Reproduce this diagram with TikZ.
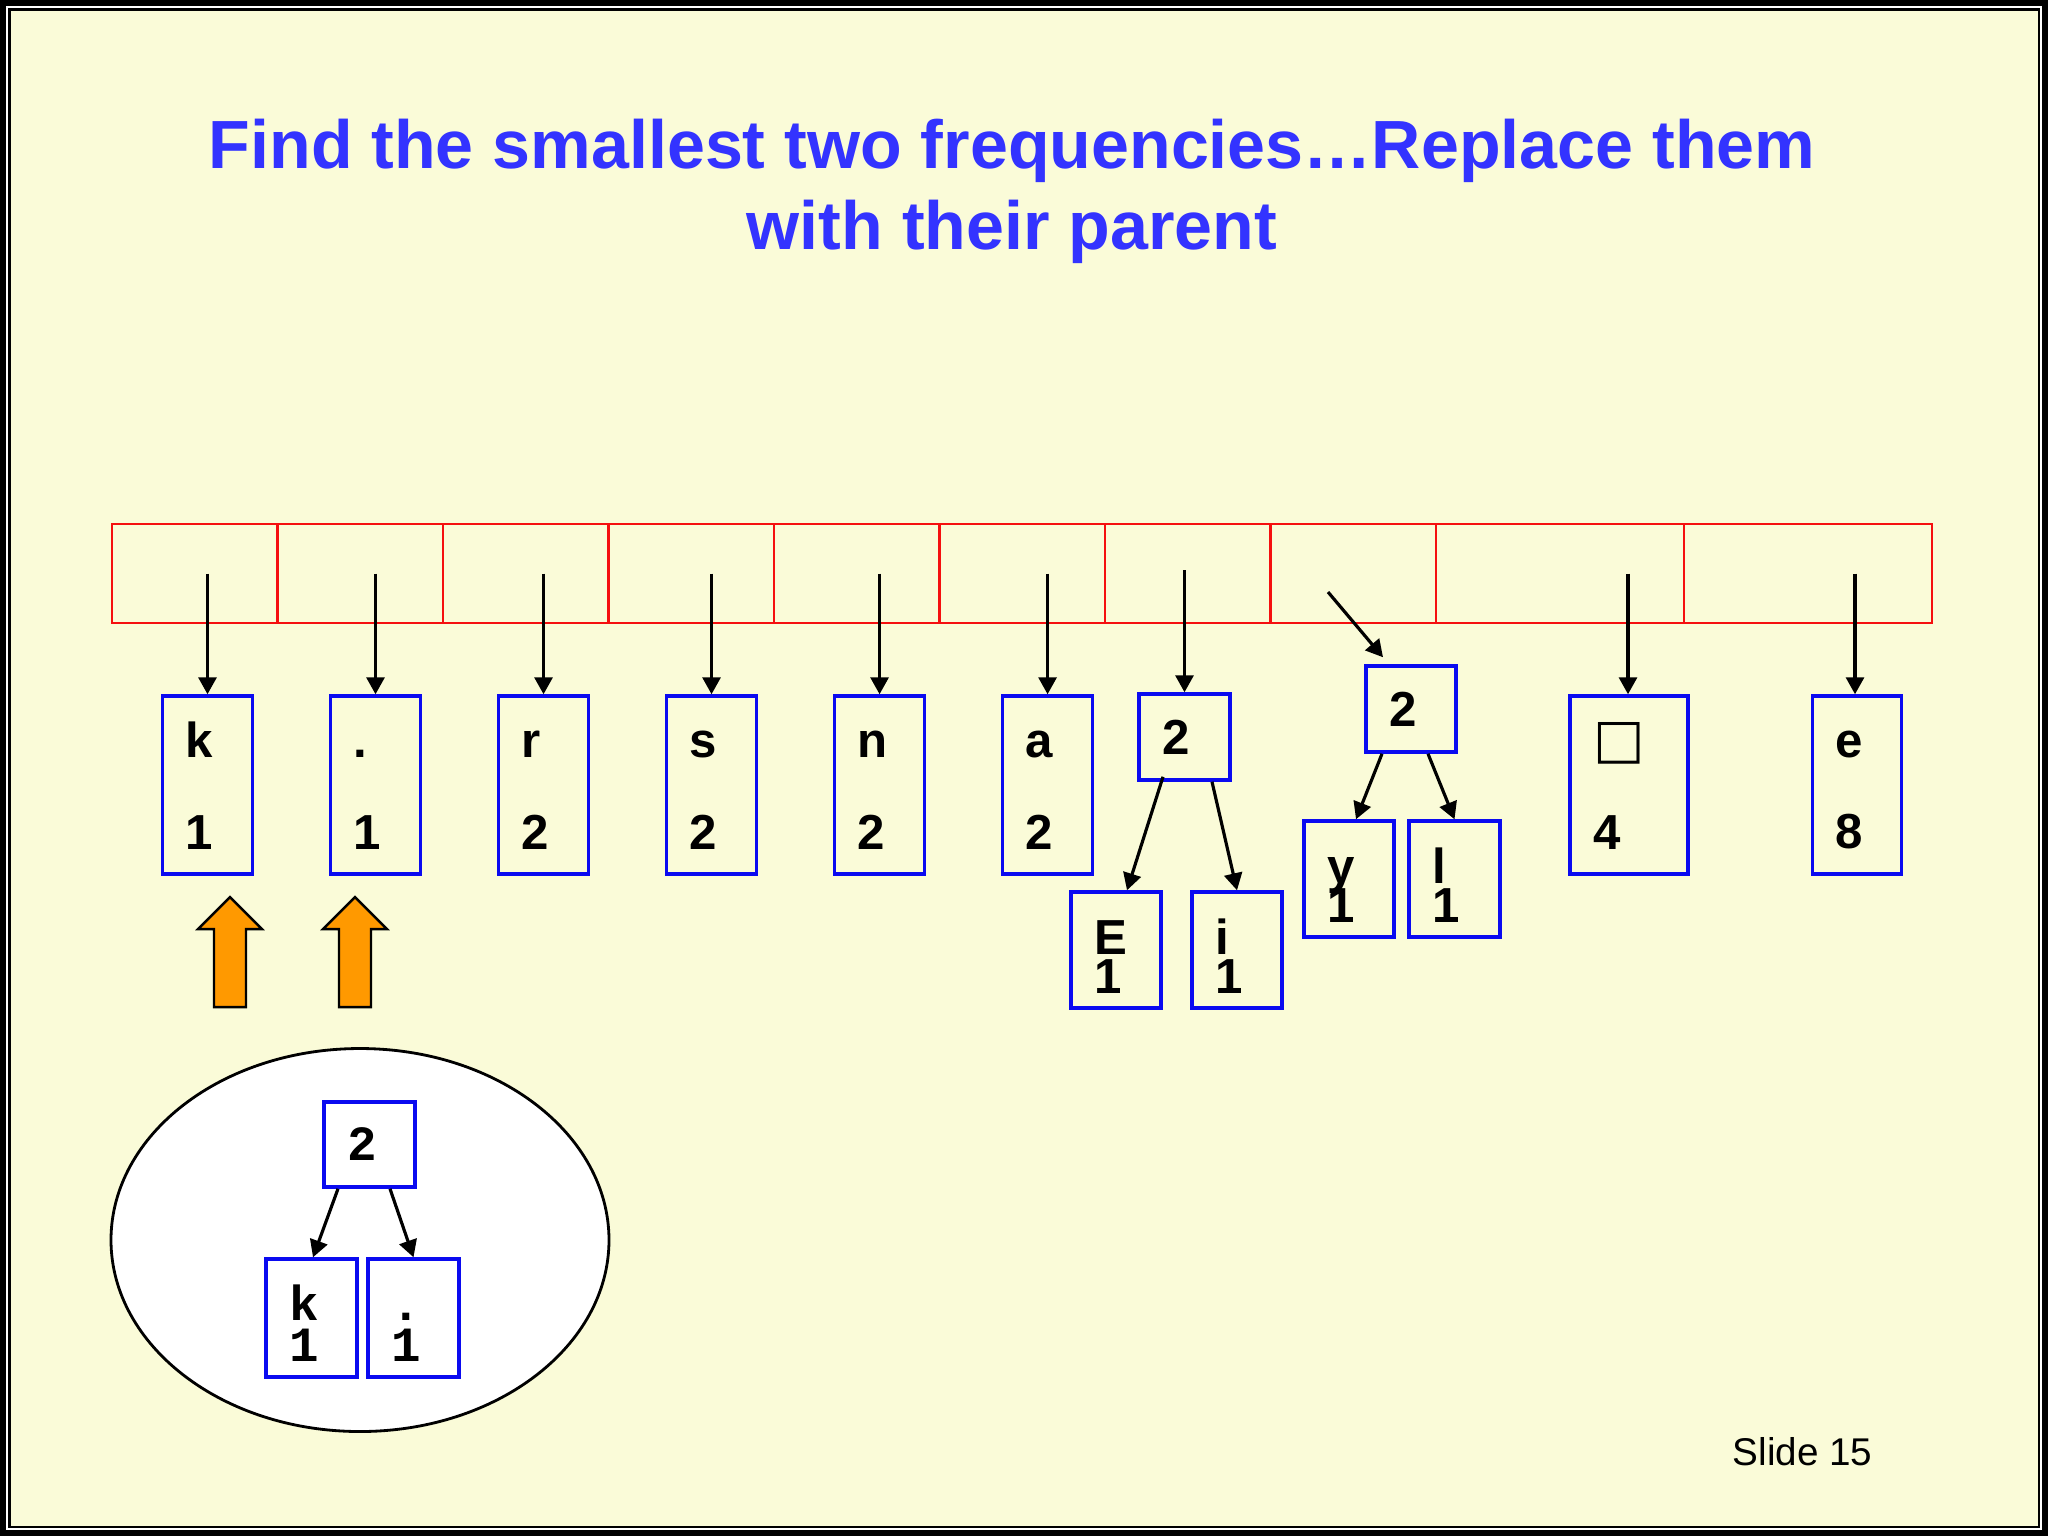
\documentclass[tikz,border=0pt]{standalone}
\usepackage{fontspec}
\setmainfont{Liberation Sans}
\setmonofont{Liberation Mono}
\newfontfamily\glyphfont{DejaVu Sans}
\usepackage{xcolor}
\definecolor{SlideCream}{HTML}{FAFBD8}
\definecolor{TitleBlue}{HTML}{3333FF}
\definecolor{LeafBlue}{HTML}{0A0AF0}
\definecolor{SlotRed}{HTML}{F50F0F}
\definecolor{PickOrange}{HTML}{FF9900}
\usepackage{tikz}
\usetikzlibrary{arrows.meta,positioning,shapes.geometric}

\newcommand{\tallrise}{\rule{0pt}{10.5pt}}
\newcommand{\shortrise}{\rule{0pt}{13.4pt}}
\newcommand{\monorise}{\rule{0pt}{13.1pt}}
\newcommand{\tightlines}{\lineskiplimit=-20pt\relax}

\begin{document}
\begin{tikzpicture}[
  x=0.1mm,y=-0.1mm,
  slot/.style={draw=SlotRed,line width=0.7pt,minimum width=16.55mm,minimum height=9.9mm,inner sep=0pt,outer sep=0pt},
  wideslot/.style={slot,minimum width=24.8mm},
  leaf/.style={draw=LeafBlue,line width=1pt,text width=4.4mm,inner xsep=2.3mm,inner ysep=0pt,minimum height=17.8mm,align=left,font=\fontsize{14}{26}\selectfont\bfseries},
  twig/.style={leaf,minimum height=11.6mm,font=\fontsize{14}{11.1}\selectfont\bfseries\tightlines},
  sum/.style={leaf,minimum height=8.6mm,font=\fontsize{14}{17}\selectfont\bfseries},
  merged/.style={leaf,text width=4.5mm,minimum height=11.8mm,font=\fontsize{14}{11.9}\selectfont\ttfamily\bfseries\tightlines},
  ptr/.style={-{Triangle[length=1.7mm,width=1.8mm]},line width=0.9pt},
  pick/.style={draw=black,line width=0.7pt,fill=PickOrange}
]
% slide frame
\fill[black] (0,0) rectangle (2048,1536);
\fill[white] (6,6) rectangle (2042,1530);
\fill[black] (8,8) rectangle (2040,1528);
\fill[SlideCream] (10.5,10.5) rectangle (2037.5,1525.5);

\node[font=\fontsize{19.4}{23}\selectfont\bfseries,text=TitleBlue,align=center] (title) at (1012,191.5)
  {Find the smallest two frequencies…Replace them\\with their parent};

% the array
\node[slot] (slot1) at (194.75,573.5) {};
\node[slot,right=0pt of slot1] (slot2) {};
\node[slot,right=0pt of slot2] (slot3) {};
\node[slot,right=0pt of slot3] (slot4) {};
\node[slot,right=0pt of slot4] (slot5) {};
\node[slot,right=0pt of slot5] (slot6) {};
\node[slot,right=0pt of slot6] (slot7) {};
\node[slot,right=0pt of slot7] (slot8) {};
\node[wideslot,right=0pt of slot8] (slot9) {};
\node[wideslot,right=0pt of slot9] (slot10) {};

% leaves
\node[leaf] (leafk) at (207.5,785) {\tallrise k\\1};
\node[leaf,right=7.45mm of leafk] (leafdot) {\tallrise .\\1};
\node[leaf,right=7.45mm of leafdot] (leafr) {\tallrise r\\2};
\node[leaf,right=7.45mm of leafr] (leafs) {\tallrise s\\2};
\node[leaf,right=7.45mm of leafs] (leafn) {\tallrise n\\2};
\node[leaf,right=7.45mm of leafn] (leafa) {\tallrise a\\2};
\node[leaf,text width=7.2mm] (leafsp) at (1629,785) {\tallrise\smash{\glyphfont\fontsize{15.5}{16}\selectfont □}\\4};
\node[leaf,text width=4.3mm] (leafe) at (1857,785) {\tallrise e\\8};

% subtrees already built
\node[sum,text width=4.5mm] (sumEi) at (1184.5,737) {2};
\node[twig] (leafE) at (1116,950) {\shortrise E\\1};
\node[twig] (leafi) at (1237,950) {\shortrise i\\1};
\node[sum] (sumyl) at (1411,709) {2};
\node[twig] (leafy) at (1349,879) {\shortrise y\\1};
\node[twig,text width=4.5mm] (leafl) at (1454.5,879) {\shortrise l\\1};

\draw[ptr] (leafk |- slot1) -- (leafk);
\draw[ptr] (leafdot |- slot2) -- (leafdot);
\draw[ptr] (leafr |- slot3) -- (leafr);
\draw[ptr] (leafs |- slot4) -- (leafs);
\draw[ptr] (leafn |- slot5) -- (leafn);
\draw[ptr] (leafa |- slot6) -- (leafa);
\draw[ptr] ([yshift=0.35mm]sumEi |- slot7) -- (sumEi);
\coordinate (from8) at (1328,592);
\draw[ptr] (from8) -- ([shift={(-2.8mm,0.7mm)}]sumyl.north);
\draw[ptr] ([xshift=-0.1mm]leafsp |- slot9) -- ([xshift=-0.1mm]leafsp.north);
\draw[ptr] ([xshift=-0.2mm]leafe |- slot10) -- ([xshift=-0.2mm]leafe.north);

\draw[ptr] ([xshift=-2.15mm,yshift=0.5mm]sumEi.south) -- ([xshift=1.1mm]leafE.north);
\draw[ptr] ([xshift=2.75mm]sumEi.south) -- (leafi.north);
\draw[ptr] ([xshift=-2.9mm]sumyl.south) -- ([xshift=0.7mm]leafy.north);
\draw[ptr] ([xshift=1.7mm]sumyl.south) -- (leafl.north);

% the two smallest
\draw[pick] (214,1007) -- (214,929) -- (198,929) -- (230,897) -- (262,929) -- (246,929) -- (246,1007) -- cycle;
\draw[pick] (339,1007) -- (339,929) -- (323,929) -- (355,897) -- (387,929) -- (371,929) -- (371,1007) -- cycle;

% their new parent
\node[draw,ellipse,fill=white,line width=0.8pt,minimum width=49.8mm,minimum height=38.3mm,inner sep=0pt] (oval) at (360,1240) {};
\node[merged,minimum height=8.5mm] (mergetop) at (369.5,1144.5) {2};
\node[merged] (mergek) at (311.5,1318) {\monorise k\\1};
\node[merged] (mergedot) at (413.5,1318) {\monorise .\\1};
\draw[ptr] ([xshift=-3.15mm]mergetop.south) -- ([xshift=0.15mm]mergek.north);
\draw[ptr] ([xshift=2.05mm]mergetop.south) -- (mergedot.north);

\node[anchor=base west,inner sep=0pt,font=\fontsize{11}{13}\selectfont] (slideno) at (1732,1465) {Slide 15};
\end{tikzpicture}
\end{document}
